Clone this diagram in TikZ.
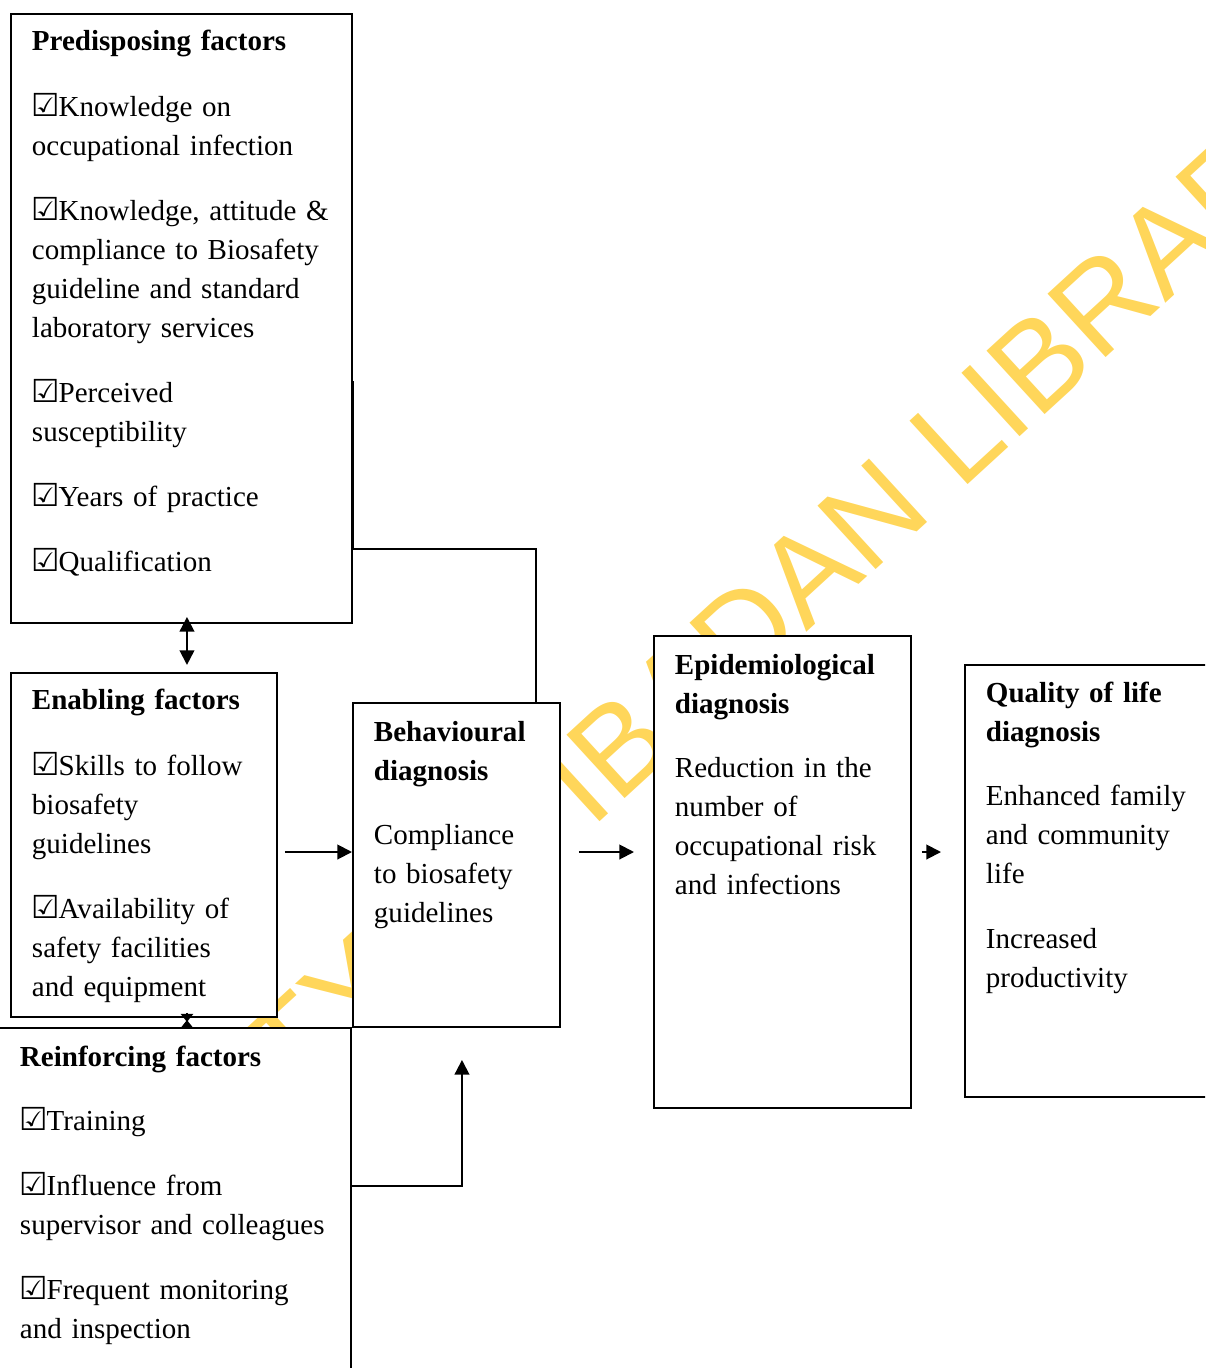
\documentclass[tikz,border=0pt]{standalone}
\usepackage{fontspec}
\setmainfont{Liberation Serif}
\newfontfamily\wmfont{Liberation Sans}
\newfontfamily\symfont{DejaVu Sans}
\usetikzlibrary{arrows.meta,calc}
\newlength\pxu
\setlength\pxu{0.41pt}
\definecolor{wmyellow}{RGB}{255,214,90}
\newcommand\tick{{\symfont\fontsize{13}{16}\selectfont ☑}\kern-0.7pt}
\newcommand\gap[1][10.6pt]{\\[#1]}
\tikzset{box/.style={draw, fill=white, anchor=north west, inner sep=0pt},
  txt/.style={anchor=base west, text width=#1, align=left, inner sep=0pt, font=\fontsize{11.9}{16}\selectfont},
  arr/.style={-{Triangle[length=6pt,width=6pt]}},
  dbl/.style={{Triangle[length=6pt,width=6pt]}-{Triangle[length=6pt,width=6pt]}},
  pinch/.style={-{Triangle[length=3.3pt,width=5pt]}},
  watermark/.style={wmyellow, font=\wmfont\fontsize{51.25}{55}\selectfont, anchor=base west, rotate=42.5, inner sep=0pt}}

\begin{document}
\begin{tikzpicture}[x=\pxu, y=-\pxu, line width=0.8pt]
  \useasboundingbox (0,0) rectangle (1205,1368);
  \clip (0,0) rectangle (1205,1368);
  \node[watermark] (wm) at (-141,1501) {UNIVERSITY OF IBADAN LIBRARY};

  % the five boxes
  \node[box, minimum width=341\pxu, minimum height=609\pxu] (pre) at (10,13) {};
  \node[box, minimum width=266\pxu, minimum height=344\pxu] (enab) at (10,672) {};
  \node[box, minimum width=362\pxu, minimum height=400\pxu] (reinf) at (-12,1027) {};
  \node[box, minimum width=207\pxu, minimum height=324\pxu] (behav) at (352,702) {};
  \node[box, minimum width=257\pxu, minimum height=472\pxu] (epi) at (653,635) {};
  \node[box, minimum width=300\pxu, minimum height=432\pxu] (qol) at (964,664) {};

  \node[txt=330\pxu] (pretxt) at ($(pre.north west)+(21,37)$) {\textbf{Predisposing factors}\gap[11.4pt]
    \tick Knowledge on\\ occupational infection\gap
    \tick Knowledge, attitude \&\\ compliance to Biosafety\\ guideline and standard\\ laboratory services\gap
    \tick Perceived\\ susceptibility\gap
    \tick Years of practice\gap
    \tick Qualification};
  \node[txt=250\pxu] (enabtxt) at ($(enab.north west)+(21,37)$) {\textbf{Enabling factors}\gap[11.4pt]
    \tick Skills to follow\\ biosafety\\ guidelines\gap
    \tick Availability of\\ safety facilities\\ and equipment};
  \node[txt=330\pxu] (reinftxt) at ($(reinf.north west)+(31,39)$) {\textbf{Reinforcing factors}\gap
    \tick Training\gap
    \tick Influence from\\ supervisor and colleagues\gap
    \tick Frequent monitoring\\ and inspection};
  \node[txt=180\pxu] (behavtxt) at ($(behav.north west)+(21,39)$) {\textbf{Behavioural}\\ \textbf{diagnosis}\gap
    Compliance\\ to biosafety\\ guidelines};
  \node[txt=230\pxu] (epitxt) at ($(epi.north west)+(21,39)$) {\textbf{Epidemiological}\\ \textbf{diagnosis}\gap
    Reduction in the\\ number of\\ occupational risk\\ and infections};
  \node[txt=230\pxu] (qoltxt) at ($(qol.north west)+(21,38)$) {\textbf{Quality of life}\\ \textbf{diagnosis}\gap
    Enhanced family\\ and community\\ life\gap
    Increased\\ productivity};

  % connectors
  \coordinate (row) at (0,852);
  \coordinate (preout) at ($(pre.north east)+(0,368)$);
  \coordinate (bend) at (536,549);
  \coordinate (reinout) at ($(reinf.north east)+(0,159)$);
  \draw (preout) |- (bend) -- (bend |- behav.north);
  \draw[dbl] ($(pre.south)+(5.5,-7)$) -- ($(pre.south)+(5.5,41)$);
  \draw[pinch] ($(enab.south)+(43,-5)$) -- ($(enab.south)+(43,4)$);
  \draw[pinch] ($(reinf.north)+(17,1)$) -- ($(reinf.north)+(17,-7)$);
  \draw[arr] ($(enab.east |- row)+(7,0)$) -- (behav.west |- row);
  \draw[arr] ($(behav.east |- row)+(18,0)$) -- ($(epi.west |- row)+(-19,0)$);
  \draw[arr] ($(epi.east |- row)+(10,0)$) -- ($(qol.west |- row)+(-23,0)$);
  \draw[arr] (reinout) -| ($(behav.south)+(5.5,32)$);
\end{tikzpicture}
\end{document}
